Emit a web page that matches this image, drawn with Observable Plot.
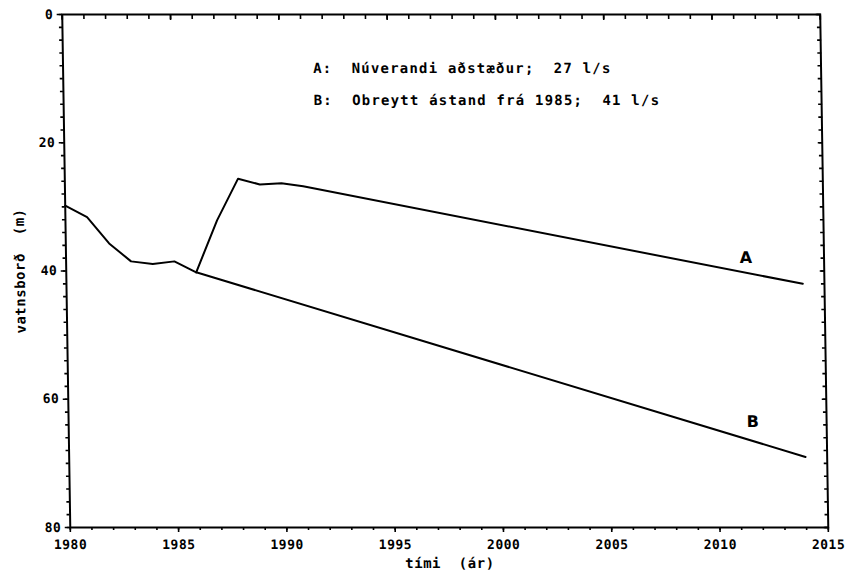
<!DOCTYPE html>
<html><head><meta charset="utf-8">
<script src="https://cdn.jsdelivr.net/npm/d3@7"></script>
<script src="https://cdn.jsdelivr.net/npm/@observablehq/plot@0.6"></script>
<style>
body{margin:0;background:#fff;}
#chart svg{transform: skewX(0.9deg); transform-origin: 50% 287px;}
svg text{white-space:pre;}
</style></head><body><div id="chart"></div>
<script>
// Common history (both scenarios)
const yearsCommon = [1980, 1981, 1982, 1983, 1984, 1985, 1986];
const levelCommon = [29.8, 31.6, 35.7, 38.5, 38.9, 38.5, 40.2];
// Scenario A
const yearsA = [1986, 1987, 1988, 1989, 1990, 1991, 2014];
const levelA = [40.2, 32.1, 25.6, 26.5, 26.3, 26.8, 42.0];
// Scenario B
const yearsB = [1986, 2014];
const levelB = [40.2, 69.0];
// Ticks
const xMajor = [1980, 1985, 1990, 1995, 2000, 2005, 2010, 2015];
const xMinor = d3.range(1980, 2016, 1);
const yMajor = [0, 20, 40, 60, 80];
const yMinor = d3.range(0, 81, 2);
// Texts
const legendA = "A:  Núverandi aðstæður;  27 l/s";
const legendB = "B:  Obreytt ástand frá 1985;  41 l/s";
const xTitle = "tími  (ár)";
const yTitle = "vatnsborð  (m)";
const labelNames = ["A", "B"];
const labelYears = [2011.4, 2011.6];
const labelLevels = [37.9, 63.6];

const toRows = (xs, ys) => xs.map((x, i) => ({year: x, level: ys[i]}));
const common = toRows(yearsCommon, levelCommon);
const sA = toRows(yearsA, levelA);
const sB = toRows(yearsB, levelB);
const labels = labelNames.map((n, i) => ({name: n, year: labelYears[i], level: labelLevels[i]}));

const mono = "'DejaVu Sans Mono', monospace";
const empty = () => "";

const chart = Plot.plot({
  width: 847, height: 574,
  marginLeft: 66, marginRight: 23, marginTop: 14, marginBottom: 47,
  style: {fontFamily: mono, fontSize: "13px", fontWeight: "bold", color: "#000", background: "#fff", letterSpacing: "0.5px"},
  x: {domain: [1980, 2015]},
  y: {domain: [0, 80], reverse: true},
  marks: [
    Plot.axisX({ticks: xMinor, tickSize: 3, tickFormat: empty, label: null, strokeWidth: 1.6}),
    Plot.axisX({ticks: xMajor, tickSize: 5, tickPadding: 7, tickFormat: d => String(d), label: null, strokeWidth: 1.6}),
    Plot.axisX({anchor: "top", ticks: xMinor, tickSize: -4, tickFormat: empty, label: null, strokeWidth: 1.6}),
    Plot.axisX({anchor: "top", ticks: xMajor, tickSize: -5, tickFormat: empty, label: null, strokeWidth: 1.6}),
    Plot.axisY({ticks: yMinor, tickSize: 3, tickFormat: empty, label: null, strokeWidth: 1.6}),
    Plot.axisY({ticks: yMajor, tickSize: 5, tickPadding: 4, tickFormat: d => String(d), label: null, strokeWidth: 1.6}),
    Plot.axisY({anchor: "right", ticks: yMinor, tickSize: -4, tickFormat: empty, label: null, strokeWidth: 1.6}),
    Plot.axisY({anchor: "right", ticks: yMajor, tickSize: -5, tickFormat: empty, label: null, strokeWidth: 1.6}),
    Plot.frame({stroke: "#000", strokeWidth: 2}),
    Plot.line(common, {x: "year", y: "level", stroke: "#000", strokeWidth: 2}),
    Plot.line(sA, {x: "year", y: "level", stroke: "#000", strokeWidth: 2}),
    Plot.line(sB, {x: "year", y: "level", stroke: "#000", strokeWidth: 2}),
    Plot.text(labels, {x: "year", y: "level", text: "name", fontFamily: "'DejaVu Sans', sans-serif", fontSize: 16, fontWeight: "bold", fill: "#000"}),
    Plot.text([legendA], {frameAnchor: "top-left", dx: 250, dy: 54, textAnchor: "start", lineAnchor: "middle", fontSize: 14, fill: "#000"}),
    Plot.text([legendB], {frameAnchor: "top-left", dx: 250, dy: 86, textAnchor: "start", lineAnchor: "middle", fontSize: 14, fill: "#000"}),
    Plot.text([xTitle], {frameAnchor: "bottom", dy: 36, textAnchor: "middle", lineAnchor: "middle", fontSize: 14, fill: "#000"}),
    Plot.text([yTitle], {frameAnchor: "left", dx: -46, rotate: -90, textAnchor: "middle", lineAnchor: "middle", fontSize: 14, fill: "#000"})
  ]
});
// widen letter pitch of the legend lines to match the plotter lettering
d3.select(chart).selectAll("text").filter(function() {
  const t = this.textContent;
  return t.startsWith("A:") || t.startsWith("B:");
}).style("letter-spacing", "1.2px");
document.getElementById("chart").appendChild(chart);
</script></body></html>
